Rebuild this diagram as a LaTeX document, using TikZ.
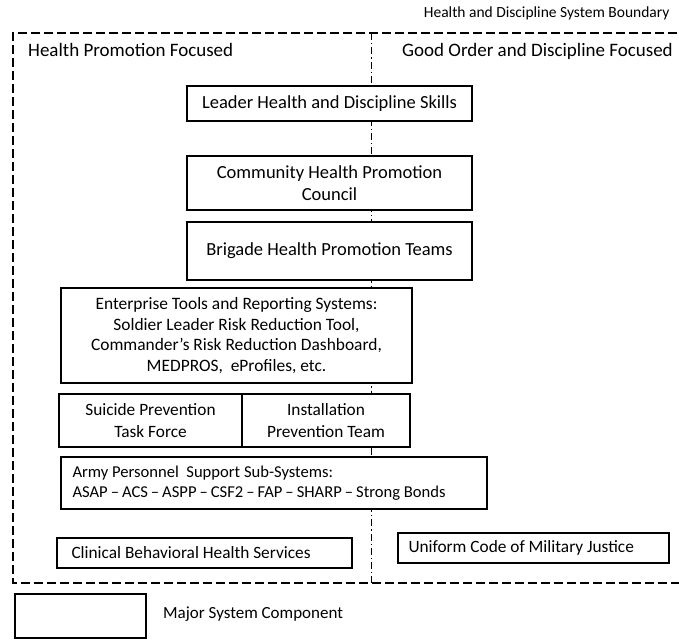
\documentclass[tikz,border=0pt]{standalone}
\usepackage{fontspec}
\setmainfont{Carlito}
\newcommand{\sdash}{\hspace{0.18em}–\hspace{0.18em}}
\begin{document}
\begin{tikzpicture}[x=1pt,y=-1pt,
  comp/.style={draw=black,line width=1.4pt,fill=white,inner sep=0pt,
    align=center,font=\fontsize{18.5}{22.3}\selectfont},
  ltext/.style={anchor=west,align=left,inner sep=0pt,font=\fontsize{17.3}{20.5}\selectfont},
  hdr/.style={font=\fontsize{19}{22}\selectfont},
  boundary/.style={line width=2.8pt,dash pattern=on 9pt off 4pt},
  divide/.style={line width=1pt,dash pattern=on 7pt off 3pt on 1.3pt off 3pt}]
\useasboundingbox (0,0) rectangle (679,640);

% system boundary title
\node[anchor=base east,font=\fontsize{15.5}{18}\selectfont] (title) at (673,17) {Health and Discipline System Boundary};

% split between the two focus areas
\coordinate (divtop) at (371,33);
\coordinate (divbot) at (371,583);
\draw[divide] (divtop) -- (divbot);

% dashed system boundary (open on the right)
\draw[boundary] (690,33) -- (13,33) -- (13,583) -- (690,583);

\node[hdr,anchor=base west,inner sep=0pt] (hpf) at (28,56) {Health Promotion Focused};
\node[hdr,anchor=base east,inner sep=0pt] (god) at (673,56) {Good Order and Discipline Focused};

% components with centred text
\node[comp,minimum width=285pt,minimum height=35pt] (lead) at (329.5,103.5) {Leader Health and Discipline Skills};
\node[comp,minimum width=285pt,minimum height=54pt] (chpc) at (329.5,183) {Community Health Promotion\\Council};
\node[comp,minimum width=285pt,minimum height=58pt] (bhpt) at (329.5,251) {Brigade Health Promotion Teams};
\node[comp,minimum width=351pt,minimum height=95pt,font=\fontsize{17.4}{20.6}\selectfont] (ets) at (236.5,335.5)
  {Enterprise Tools and Reporting Systems:\\Soldier Leader Risk Reduction Tool,\\Commander’s Risk Reduction Dashboard,\\MEDPROS,\ \ eProfiles, etc.};
\node[comp,minimum width=183pt,minimum height=53pt,font=\fontsize{17.3}{22}\selectfont] (sptf) at (150.5,420.5) {Suicide Prevention\\Task Force};
\node[comp,minimum width=168pt,minimum height=53pt,font=\fontsize{17.3}{22}\selectfont] (ipt) at (326,420.5) {Installation\\Prevention Team};

% components with left-aligned text
\node[comp,minimum width=426pt,minimum height=52pt] (apss) at (274,483) {};
\node[ltext,font=\fontsize{16.6}{20.5}\selectfont] (apsst) at ([xshift=12pt]apss.west)
  {Army Personnel\ \ Support Sub-Systems:\\ASAP\sdash ACS\sdash ASPP\sdash CSF2\sdash FAP\sdash SHARP\sdash Strong Bonds};
\node[comp,minimum width=295pt,minimum height=30pt] (cbhs) at (204.5,553) {};
\node[ltext] (cbhst) at ([xshift=15pt]cbhs.west) {Clinical Behavioral Health Services};
\node[comp,minimum width=271pt,minimum height=30pt] (ucmj) at (533.5,548) {};
\node[ltext] (ucmjt) at ([xshift=11pt]ucmj.west) {Uniform Code of Military Justice};

% legend
\node[comp,minimum width=131pt,minimum height=44pt] (legbox) at (80.5,616) {};
\node[ltext,font=\fontsize{17}{20}\selectfont] (legtxt) at (163,614) {Major System Component};
\end{tikzpicture}
\end{document}
